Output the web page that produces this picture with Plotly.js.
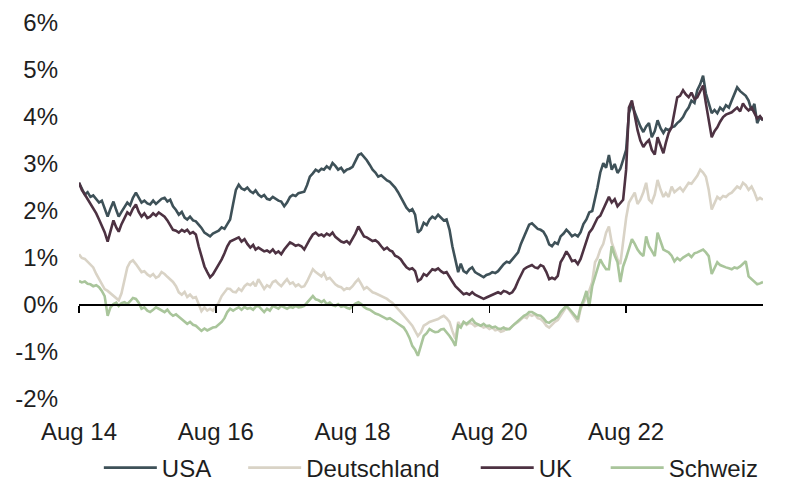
<!DOCTYPE html>
<html>
<head>
<meta charset="utf-8">
<script src="https://cdn.plot.ly/plotly-3.0.1.min.js"></script>
<style>
  html, body { margin: 0; padding: 0; background: #ffffff; }
  #chart { width: 787px; height: 486px; }
</style>
</head>
<body>
<div id="chart"></div>
<script>
// 10-year government bond yields, in percent, sampled on the 1st and 16th of each month
// from August 2014 to August 2024 (241 samples per series).
const startYear = 2014;
const startMonth = 8;
const sampleCount = 241;

const seriesNames = ['USA', 'Deutschland', 'UK', 'Schweiz'];
const seriesColors = ['#3e5158', '#d9d3c6', '#4d3242', '#a9c59b'];

const usa = [
  2.60,2.48,2.35,2.40,2.30,2.33,2.25,2.18,2.22,2.05,1.88,2.05,2.20,2.02,1.88,1.98,2.08,2.18,2.12,2.28,2.39,2.28,2.18,2.22,
  2.16,2.14,2.22,2.15,2.20,2.26,2.28,2.20,2.24,2.10,2.02,1.92,1.98,1.86,1.82,1.88,1.80,1.78,1.71,1.64,1.54,1.50,1.46,1.52,
  1.56,1.58,1.65,1.62,1.72,1.82,2.15,2.45,2.56,2.48,2.45,2.50,2.42,2.38,2.44,2.35,2.30,2.34,2.26,2.24,2.30,2.26,2.22,2.20,
  2.10,2.18,2.30,2.34,2.32,2.38,2.39,2.41,2.55,2.73,2.80,2.88,2.84,2.90,2.88,2.95,2.90,3.02,2.96,2.88,2.92,2.83,2.88,2.90,
  2.94,3.05,3.19,3.22,3.15,3.08,2.98,2.88,2.82,2.73,2.76,2.70,2.65,2.62,2.56,2.50,2.40,2.30,2.18,2.07,2.00,2.04,1.92,1.54,
  1.60,1.75,1.70,1.82,1.88,1.84,1.92,1.86,1.80,1.82,1.60,1.25,0.97,0.70,0.88,0.72,0.68,0.76,0.80,0.70,0.66,0.62,0.59,0.64,
  0.66,0.70,0.68,0.72,0.80,0.87,0.92,0.90,0.97,1.05,1.12,1.30,1.46,1.62,1.71,1.74,1.67,1.62,1.60,1.56,1.45,1.29,1.25,1.33,
  1.30,1.46,1.52,1.60,1.54,1.46,1.50,1.46,1.55,1.72,1.82,1.97,2.00,2.24,2.50,2.82,3.02,2.92,3.19,2.88,3.00,2.81,2.90,3.09,
  3.30,4.08,4.29,4.10,3.93,3.80,3.68,3.80,3.87,3.57,3.70,3.93,3.76,3.66,3.75,3.72,3.78,3.80,3.87,3.92,4.00,4.12,4.20,4.35,
  4.30,4.57,4.70,4.88,4.50,4.28,4.08,4.15,4.08,4.20,4.14,4.25,4.20,4.35,4.50,4.63,4.55,4.50,4.45,4.35,4.14,4.28,3.87,4.00,
  3.93
];

const deutschland = [
  1.08,1.00,0.98,0.92,0.87,0.80,0.66,0.55,0.45,0.34,0.30,0.25,0.19,0.16,0.10,0.25,0.55,0.80,0.91,0.95,0.87,0.78,0.70,0.72,
  0.65,0.61,0.66,0.58,0.61,0.70,0.66,0.60,0.55,0.49,0.40,0.27,0.22,0.28,0.17,0.22,0.15,0.17,0.02,-0.13,-0.05,-0.12,-0.08,-0.12,
  -0.04,0.05,0.19,0.28,0.35,0.34,0.28,0.27,0.35,0.30,0.40,0.45,0.42,0.48,0.40,0.55,0.45,0.34,0.42,0.38,0.49,0.52,0.45,0.40,
  0.48,0.55,0.45,0.48,0.40,0.44,0.38,0.40,0.50,0.61,0.76,0.70,0.65,0.61,0.68,0.55,0.58,0.50,0.44,0.40,0.38,0.32,0.36,0.34,
  0.40,0.48,0.55,0.45,0.34,0.38,0.32,0.27,0.25,0.22,0.19,0.16,0.13,0.08,0.05,-0.02,-0.08,-0.15,-0.22,-0.30,-0.38,-0.44,-0.55,-0.66,
  -0.58,-0.44,-0.40,-0.36,-0.34,-0.32,-0.30,-0.26,-0.23,-0.28,-0.36,-0.55,-0.72,-0.36,-0.45,-0.36,-0.42,-0.38,-0.40,-0.45,-0.42,-0.44,-0.48,-0.46,
  -0.51,-0.48,-0.54,-0.52,-0.57,-0.55,-0.50,-0.51,-0.45,-0.40,-0.36,-0.30,-0.25,-0.28,-0.20,-0.23,-0.20,-0.28,-0.30,-0.35,-0.44,-0.48,-0.42,-0.36,
  -0.32,-0.23,-0.12,-0.04,-0.10,-0.19,-0.28,-0.36,-0.08,0.05,0.19,0.30,0.49,0.91,1.00,1.18,1.30,1.54,1.67,1.33,1.15,0.97,0.87,1.40,
  1.85,2.18,2.30,2.39,2.15,2.24,2.40,2.60,2.24,2.18,2.35,2.66,2.45,2.30,2.38,2.30,2.52,2.40,2.45,2.50,2.42,2.52,2.60,2.58,
  2.66,2.75,2.88,2.82,2.73,2.45,2.03,2.15,2.30,2.25,2.32,2.30,2.36,2.39,2.45,2.52,2.48,2.60,2.55,2.45,2.52,2.40,2.24,2.28,
  2.24
];

const uk = [
  2.60,2.45,2.35,2.25,2.18,2.08,1.95,1.82,1.70,1.55,1.35,1.60,1.80,1.65,1.56,1.72,1.85,1.97,1.92,2.05,2.14,1.98,1.88,1.95,
  1.85,1.88,1.95,1.90,1.97,1.92,1.88,1.80,1.70,1.60,1.58,1.54,1.60,1.56,1.60,1.52,1.55,1.50,1.25,1.05,0.82,0.70,0.59,0.65,
  0.76,0.85,0.97,1.10,1.25,1.35,1.38,1.40,1.44,1.35,1.40,1.30,1.22,1.28,1.18,1.22,1.18,1.14,1.16,1.12,1.18,1.10,1.14,1.08,
  1.18,1.25,1.33,1.30,1.26,1.28,1.25,1.18,1.30,1.40,1.50,1.54,1.48,1.50,1.46,1.52,1.48,1.54,1.45,1.40,1.35,1.33,1.36,1.30,
  1.40,1.52,1.67,1.55,1.46,1.44,1.40,1.36,1.38,1.33,1.25,1.18,1.22,1.16,1.14,1.05,1.02,0.97,0.88,0.80,0.76,0.78,0.72,0.51,
  0.55,0.66,0.62,0.70,0.76,0.74,0.78,0.72,0.68,0.70,0.61,0.50,0.40,0.34,0.30,0.23,0.25,0.22,0.27,0.22,0.19,0.16,0.13,0.16,
  0.19,0.22,0.25,0.27,0.24,0.30,0.28,0.24,0.27,0.36,0.51,0.65,0.76,0.80,0.82,0.85,0.80,0.78,0.85,0.82,0.70,0.55,0.58,0.55,
  0.62,0.91,1.02,1.14,1.05,0.93,0.95,0.87,0.98,1.15,1.35,1.54,1.62,1.75,1.85,1.90,2.03,2.15,2.30,2.18,2.25,2.10,2.18,2.24,
  2.88,4.20,4.35,4.00,3.72,3.50,3.36,3.45,3.51,3.30,3.20,3.57,3.40,3.23,3.45,3.66,3.78,4.10,4.42,4.45,4.57,4.48,4.42,4.52,
  4.38,4.42,4.55,4.67,4.29,3.90,3.57,3.70,3.78,3.90,4.00,4.05,4.08,4.10,4.15,4.20,4.12,4.29,4.20,4.14,4.20,4.10,3.97,4.02,
  3.93
];

const schweiz = [
  0.51,0.48,0.50,0.45,0.44,0.40,0.42,0.38,0.30,0.19,-0.23,-0.05,0.02,0.05,-0.02,0.04,0.06,0.02,0.08,0.15,0.13,0.05,-0.08,-0.05,
  -0.12,-0.15,-0.10,-0.05,-0.08,-0.12,-0.15,-0.10,-0.18,-0.23,-0.20,-0.25,-0.30,-0.35,-0.40,-0.36,-0.42,-0.44,-0.50,-0.55,-0.50,-0.54,-0.51,-0.48,
  -0.47,-0.42,-0.36,-0.28,-0.15,-0.08,-0.12,-0.08,-0.05,-0.10,-0.04,-0.08,-0.06,-0.10,-0.04,-0.02,-0.10,-0.15,-0.08,-0.12,-0.02,-0.05,-0.08,-0.02,
  -0.05,-0.08,-0.04,-0.06,-0.02,-0.05,-0.04,-0.02,0.05,0.13,0.19,0.12,0.10,0.06,0.10,0.02,0.05,0.00,-0.02,0.02,-0.04,-0.02,-0.06,-0.08,
  -0.02,0.03,0.06,0.02,-0.04,-0.08,-0.10,-0.15,-0.18,-0.20,-0.23,-0.26,-0.30,-0.28,-0.32,-0.36,-0.40,-0.44,-0.48,-0.57,-0.70,-0.87,-0.95,-1.08,
  -0.85,-0.66,-0.60,-0.51,-0.55,-0.58,-0.57,-0.52,-0.51,-0.58,-0.66,-0.75,-0.87,-0.44,-0.48,-0.36,-0.40,-0.35,-0.30,-0.38,-0.42,-0.44,-0.40,-0.45,
  -0.44,-0.48,-0.46,-0.50,-0.51,-0.48,-0.52,-0.51,-0.45,-0.40,-0.34,-0.28,-0.23,-0.20,-0.15,-0.15,-0.18,-0.22,-0.23,-0.28,-0.36,-0.38,-0.33,-0.30,
  -0.25,-0.15,-0.08,-0.02,-0.08,-0.15,-0.22,-0.30,-0.04,0.10,0.30,-0.02,0.40,0.61,0.80,0.97,0.85,0.76,0.76,1.25,1.05,0.91,0.49,0.82,
  1.00,1.18,1.40,1.30,1.18,1.10,1.04,1.46,1.25,1.15,1.04,1.54,1.35,1.18,1.15,1.12,1.05,0.93,1.00,0.95,1.01,1.05,1.08,1.02,
  1.10,1.12,1.15,1.18,1.12,1.04,0.66,0.78,0.91,0.85,0.82,0.80,0.78,0.76,0.80,0.78,0.82,0.88,0.93,0.61,0.55,0.50,0.44,0.46,
  0.49
];

// Axis ticks
const xTickVals = ['2014-08-01', '2016-08-01', '2018-08-01', '2020-08-01', '2022-08-01'];
const xTickText = ['Aug 14', 'Aug 16', 'Aug 18', 'Aug 20', 'Aug 22'];
const yTickVals = [-2, -1, 0, 1, 2, 3, 4, 5, 6];
const yTickText = ['-2%', '-1%', '0%', '1%', '2%', '3%', '4%', '5%', '6%'];

// Sample dates: 1st and 16th of every month
function pad(n) { return (n < 10 ? '0' : '') + n; }
const dates = [];
for (let i = 0; i < sampleCount; i++) {
  const m = startMonth - 1 + Math.floor(i / 2);
  const y = startYear + Math.floor(m / 12);
  const mm = (m % 12) + 1;
  dates.push(y + '-' + pad(mm) + '-' + (i % 2 === 0 ? '01' : '16'));
}

// One single-entry legend per series, so each entry can sit at its own spot in the row
const legendIds = ['legend', 'legend2', 'legend3', 'legend4'];
const legendX = [0.029, 0.240, 0.580, 0.770];

const seriesValues = [usa, deutschland, uk, schweiz];
const traces = seriesValues.map(function (vals, i) {
  return {
    type: 'scatter',
    mode: 'lines',
    name: seriesNames[i],
    legend: legendIds[i],
    x: dates,
    y: vals,
    line: { color: seriesColors[i], width: 2.6 },
    hoverinfo: 'skip'
  };
});

const fontFamily = '"Liberation Sans", Arial, Helvetica, sans-serif';
const textColor = '#1e1e1e';

const layout = {
  width: 787,
  height: 486,
  margin: { l: 79, r: 24, t: 23, b: 87 },
  paper_bgcolor: '#ffffff',
  plot_bgcolor: '#ffffff',
  font: { family: fontFamily, size: 24, color: textColor },
  showlegend: true,
  xaxis: {
    type: 'date',
    range: ['2014-08-01', '2024-08-01'],
    anchor: 'free',
    position: 0.25,
    showline: true,
    linecolor: '#000000',
    linewidth: 2,
    ticks: 'outside',
    ticklen: 7,
    tickwidth: 1.5,
    tickcolor: '#000000',
    tickmode: 'array',
    tickvals: xTickVals,
    ticktext: xTickText,
    ticklabelstandoff: 98,
    showgrid: false,
    zeroline: false,
    layer: 'above traces',
    fixedrange: true
  },
  yaxis: {
    range: [-2, 6],
    tickmode: 'array',
    tickvals: yTickVals,
    ticktext: yTickText,
    showgrid: false,
    zeroline: false,
    showline: false,
    ticks: '',
    ticklabelstandoff: 20,
    fixedrange: true
  }
};

legendIds.forEach(function (id, i) {
  layout[id] = {
    orientation: 'h',
    xref: 'paper',
    x: legendX[i],
    xanchor: 'left',
    yref: 'container',
    y: 0.037,
    yanchor: 'middle',
    itemwidth: 53,
    font: { family: fontFamily, size: 24, color: textColor },
    bgcolor: 'rgba(0,0,0,0)',
    borderwidth: 0
  };
});

Plotly.newPlot('chart', traces, layout, { displayModeBar: false, staticPlot: true });
</script>
</body>
</html>
